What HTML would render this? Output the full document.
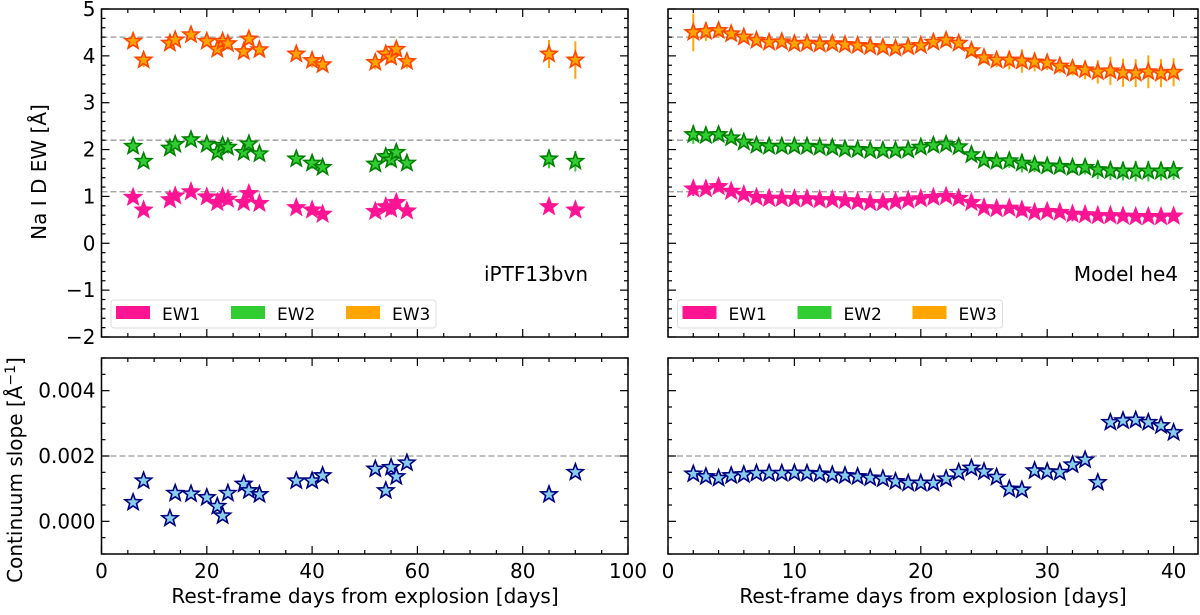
<!DOCTYPE html>
<html><head><meta charset="utf-8"><style>
body{margin:0;background:#fff}
svg text{font-family:"DejaVu Sans","Liberation Sans",sans-serif;fill:#000}
</style></head><body>
<svg id="fig" width="1200" height="610" xmlns="http://www.w3.org/2000/svg">
<text transform="translate(46,172) rotate(-90)" text-anchor="middle" font-size="20">Na I D EW [Å]</text>
<text transform="translate(22,470) rotate(-90)" text-anchor="middle" font-size="20">Continuum slope [Å<tspan dy="-7" font-size="14">−1</tspan><tspan dy="7">]</tspan></text>
<text x="365" y="603" text-anchor="middle" font-size="20">Rest-frame days from explosion [days]</text>
<text x="933" y="603" text-anchor="middle" font-size="20">Rest-frame days from explosion [days]</text>
</svg>
<script>
// ---- data ----
const obsDays=[6,8,13,14,17,20,22,23,24,27,28,30,37,40,42,52,54,55,56,58,85,90];
const obsEW1=[0.98,0.71,0.93,1.01,1.10,0.99,0.87,0.99,0.94,0.87,1.06,0.85,0.76,0.71,0.62,0.68,0.78,0.73,0.87,0.69,0.78,0.71];
const obsEW2=[2.07,1.75,2.03,2.11,2.21,2.11,1.94,2.09,2.05,1.94,2.12,1.91,1.80,1.71,1.62,1.69,1.85,1.78,1.94,1.71,1.80,1.75];
const obsEW3=[4.31,3.91,4.27,4.34,4.45,4.31,4.14,4.31,4.26,4.09,4.36,4.13,4.04,3.90,3.81,3.86,4.04,3.97,4.14,3.88,4.04,3.91];
const obsErr1=[0.06,0.06,0.06,0.06,0.06,0.06,0.06,0.06,0.06,0.06,0.06,0.06,0.06,0.06,0.08,0.06,0.08,0.08,0.08,0.06,0.08,0.08];
const obsErr2=[0.08,0.1,0.08,0.08,0.08,0.08,0.08,0.08,0.08,0.08,0.08,0.08,0.1,0.12,0.1,0.12,0.1,0.12,0.1,0.12,0.2,0.22];
const obsErr3=[0.08,0.15,0.08,0.08,0.08,0.08,0.08,0.08,0.08,0.08,0.08,0.08,0.1,0.15,0.1,0.15,0.12,0.12,0.1,0.15,0.3,0.4];
const obsSlope=[0.00058,0.00124,0.00009,0.00086,0.00084,0.00073,0.00046,0.00017,0.00086,0.00114,0.00094,0.00082,0.00124,0.00124,0.0014,0.0016,0.00094,0.00165,0.00137,0.00179,0.00082,0.0015];
const modDays=[2,3,4,5,6,7,8,9,10,11,12,13,14,15,16,17,18,19,20,21,22,23,24,25,26,27,28,29,30,31,32,33,34,35,36,37,38,39,40];
const modEW3=[4.50,4.52,4.54,4.47,4.40,4.33,4.29,4.30,4.26,4.27,4.25,4.26,4.24,4.22,4.20,4.18,4.16,4.19,4.22,4.29,4.33,4.27,4.11,3.96,3.91,3.91,3.89,3.87,3.85,3.78,3.73,3.70,3.66,3.68,3.64,3.63,3.66,3.63,3.65];
const modEW2=[2.32,2.30,2.32,2.25,2.16,2.09,2.07,2.07,2.07,2.07,2.05,2.04,2.01,2.00,1.98,1.98,1.98,1.99,2.05,2.09,2.11,2.06,1.89,1.77,1.75,1.76,1.71,1.67,1.65,1.64,1.62,1.62,1.57,1.55,1.54,1.54,1.54,1.54,1.55];
const modEW1=[1.16,1.16,1.21,1.11,1.04,0.98,0.96,0.96,0.95,0.95,0.93,0.93,0.91,0.89,0.87,0.87,0.89,0.92,0.95,0.98,1.00,0.96,0.87,0.76,0.74,0.75,0.71,0.66,0.68,0.66,0.62,0.61,0.59,0.59,0.58,0.57,0.57,0.57,0.58];
const modErr3=[0.4,0.2,0.15,0.12,0.1,0.1,0.1,0.1,0.1,0.1,0.1,0.1,0.1,0.1,0.1,0.1,0.1,0.1,0.1,0.1,0.12,0.1,0.12,0.12,0.15,0.2,0.25,0.2,0.15,0.15,0.15,0.2,0.25,0.3,0.3,0.3,0.35,0.3,0.3];
const modErr2=[0.2,0.1,0.1,0.08,0.06,0.06,0.06,0.06,0.06,0.06,0.06,0.06,0.06,0.06,0.06,0.06,0.06,0.06,0.06,0.06,0.08,0.06,0.08,0.1,0.12,0.15,0.2,0.15,0.12,0.12,0.12,0.15,0.2,0.2,0.2,0.22,0.22,0.2,0.2];
const modErr1=[0.15,0.08,0.08,0.06,0.05,0.05,0.05,0.05,0.05,0.05,0.05,0.05,0.05,0.05,0.05,0.05,0.05,0.05,0.05,0.05,0.05,0.05,0.06,0.08,0.08,0.1,0.12,0.1,0.08,0.1,0.15,0.1,0.08,0.08,0.08,0.08,0.08,0.08,0.08];
const modSlope=[0.00145,0.00137,0.00132,0.0014,0.00143,0.00147,0.00147,0.00147,0.00148,0.00147,0.00145,0.00142,0.0014,0.00137,0.00133,0.0013,0.00122,0.00117,0.00117,0.00117,0.0013,0.0015,0.00163,0.00152,0.00135,0.00099,0.00096,0.00155,0.00152,0.0015,0.00173,0.00188,0.00119,0.00303,0.00308,0.0031,0.00303,0.00293,0.00272];
const topTicks=["−2","−1","0","1","2","3","4","5"];
const topTickVals=[-2,-1,0,1,2,3,4,5];
const botTickVals=[0,0.002,0.004];
const botTicks=["0.000","0.002","0.004"];
const leftXTicks=[0,20,40,60,80,100];
const rightXTicks=[0,10,20,30,40];
const refLinesTop=[4.4,2.2,1.1];
const refLineBot=[0.002];
</script>
<script>
const NS="http://www.w3.org/2000/svg";
const svg=document.getElementById('fig');
function mk(tag,attrs,parent){const e=document.createElementNS(NS,tag);for(const k in attrs)e.setAttribute(k,attrs[k]);(parent||svg).appendChild(e);return e;}
function scale(d0,d1,p0,p1){return v=>p0+(v-d0)/(d1-d0)*(p1-p0);}
const panels={
 tl:{x0:101.5,x1:628,y0:9,y1:337,xd:[0,100],yd:[-2,5]},
 tr:{x0:668,x1:1198,y0:9,y1:337,xd:[0,41.93],yd:[-2,5]},
 bl:{x0:101.5,x1:628,y0:358,y1:554,xd:[0,100],yd:[-0.001,0.005]},
 br:{x0:668,x1:1198,y0:358,y1:554,xd:[0,41.93],yd:[-0.001,0.005]}
};
for(const k in panels){const p=panels[k];p.sx=scale(p.xd[0],p.xd[1],p.x0,p.x1);p.sy=scale(p.yd[0],p.yd[1],p.y1,p.y0);}
function star(cx,cy,r,fill,stroke,name){
  let pts=[];for(let i=0;i<10;i++){const a=-Math.PI/2+i*Math.PI/5;const rr=i%2?r*0.42:r;pts.push((cx+rr*Math.cos(a)).toFixed(1)+","+(cy+rr*Math.sin(a)).toFixed(1));}
  const s=mk('polygon',{points:pts.join(' '),fill:fill,stroke:stroke,'stroke-width':1.6,'stroke-linejoin':'miter'});
  
  
}
function frame(p,name,xminor,yminor,xmaj,ymaj,xlabels,ylabels,ylabelTxt){
  const g=mk('g',{});
  
  
  mk('rect',{x:p.x0,y:p.y0,width:p.x1-p.x0,height:p.y1-p.y0,fill:'none',stroke:'#000','stroke-width':1.5},g);
  for(let v=p.xd[0];v<=p.xd[1]+1e-9;v+=xminor){const X=p.sx(v);const maj=Math.abs(v/xmaj-Math.round(v/xmaj))<1e-6;const L=maj?8:4;
    mk('line',{x1:X,x2:X,y1:p.y1,y2:p.y1-L,stroke:'#000','stroke-width':1.2},g);mk('line',{x1:X,x2:X,y1:p.y0,y2:p.y0+L,stroke:'#000','stroke-width':1.2},g);}
  const n=Math.round((p.yd[1]-p.yd[0])/yminor);
  for(let i=0;i<=n;i++){const v=p.yd[0]+i*yminor;const Y=p.sy(v);const maj=Math.abs(v/ymaj-Math.round(v/ymaj))<1e-6;const L=maj?8:4;
    mk('line',{x1:p.x0,x2:p.x0+L,y1:Y,y2:Y,stroke:'#000','stroke-width':1.2},g);mk('line',{x1:p.x1,x2:p.x1-L,y1:Y,y2:Y,stroke:'#000','stroke-width':1.2},g);}
  if(xlabels)xlabels.forEach(v=>{const t=mk('text',{x:p.sx(v),y:p.y1+24,'text-anchor':'middle','font-size':20},g);t.textContent=v;});
  if(ylabels)ylabels.forEach((v,i)=>{const t=mk('text',{x:p.x0-6,y:p.sy(v)+7,'text-anchor':'end','font-size':20},g);t.textContent=ylabelTxt[i];});
}
function hline(p,v){const l=mk('line',{x1:p.x0,x2:p.x1,y1:p.sy(v),y2:p.sy(v),stroke:'#999','stroke-width':1.3,'stroke-dasharray':'6,3'});
  
  }
function series(p,xs,ys,es,ecol,fill,stroke,name){
  xs.forEach((x,i)=>{const X=p.sx(x);const l=mk('line',{x1:X,x2:X,y1:p.sy(ys[i]-es[i]),y2:p.sy(ys[i]+es[i]),stroke:ecol,'stroke-width':2});
    
    });
  xs.forEach((x,i)=>star(p.sx(x),p.sy(ys[i]),8.5,fill,stroke,name+'-point'));
}
function legend(p,name){
  const g=mk('g',{});
  
  
  const x=p.x0+9.5,y=300;
  mk('rect',{x:x,y:y,width:325,height:28,rx:3,fill:'#fff','fill-opacity':0.85,stroke:'#ddd','stroke-width':1},g);
  const items=[['EW1','#ff1493'],['EW2','#32cd32'],['EW3','#ffa500']];
  items.forEach((it,i)=>{const ox=x+5+i*115;
    mk('rect',{x:ox,y:y+6,width:34,height:13,fill:it[1]},g);
    const t=mk('text',{x:ox+46,y:y+20,'font-size':17},g);t.textContent=it[0];
    
    });
}
const P=panels;
refLinesTop.forEach(v=>{hline(P.tl,v);hline(P.tr,v);});
refLineBot.forEach(v=>{hline(P.bl,v);hline(P.br,v);});
series(P.tl,obsDays,obsEW3,obsErr3,'#ffa500','#ffa500','#ff4500','obs-ew3');
series(P.tl,obsDays,obsEW2,obsErr2,'#32cd32','#32cd32','#008000','obs-ew2');
series(P.tl,obsDays,obsEW1,obsErr1,'#ff1493','#ff1493','#ff1493','obs-ew1');
series(P.tr,modDays,modEW3,modErr3,'#ffa500','#ffa500','#ff4500','model-ew3');
series(P.tr,modDays,modEW2,modErr2,'#32cd32','#32cd32','#008000','model-ew2');
series(P.tr,modDays,modEW1,modErr1,'#ff1493','#ff1493','#ff1493','model-ew1');
obsDays.forEach((d,i)=>star(P.bl.sx(d),P.bl.sy(obsSlope[i]),8.5,'#87ceeb','#000080','obs-slope-point'));
modDays.forEach((d,i)=>star(P.br.sx(d),P.br.sy(modSlope[i]),8.5,'#87ceeb','#000080','model-slope-point'));
frame(P.tl,'top-left-axes',5,0.2,20,1,null,topTickVals,topTicks);
frame(P.tr,'top-right-axes',2,0.2,10,1,null,null,null);
frame(P.bl,'bottom-left-axes',5,0.0005,20,0.002,leftXTicks,botTickVals,botTicks);
frame(P.br,'bottom-right-axes',2,0.0005,10,0.002,rightXTicks,null,null);
legend(P.tl,'legend-left');legend(P.tr,'legend-right');
let t=mk('text',{x:588,y:281,'text-anchor':'end','font-size':20});t.textContent='iPTF13bvn';


t=mk('text',{x:1178,y:281,'text-anchor':'end','font-size':20});t.textContent='Model he4';


</script>
</body></html>
